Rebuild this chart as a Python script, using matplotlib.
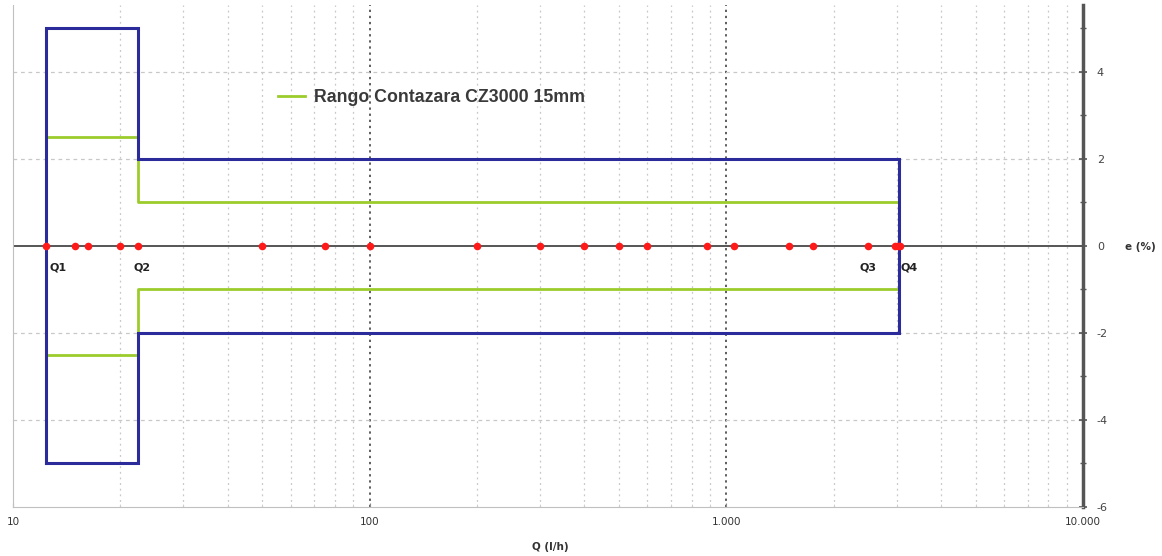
import matplotlib
matplotlib.use("Agg")
import matplotlib.pyplot as plt
from matplotlib.ticker import FixedLocator, NullFormatter, FixedFormatter

# ---- data ----
Q1, Q2, Q3, Q4 = 12.4, 22.4, 2500, 3040
flow_points = [12.4, 14.9, 16.2, 20, 22.4, 50, 75, 100, 200, 300, 400, 500, 600,
               880, 1050, 1500, 1750, 2500, 2980, 3020, 3060]
error_points = [0] * len(flow_points)
mpe_low_zone = 5.0      # blue, Q1..Q2
mpe_high_zone = 2.0     # blue, Q2..Q4
meter_low_zone = 2.5    # green, Q1..Q2
meter_high_zone = 1.0   # green, Q2..Q4
q_names = ["Q1", "Q2", "Q3", "Q4"]
q_values = [Q1, Q2, Q3, Q4]
x_tick_vals = [10, 100, 1000, 10000]
x_tick_labels = ["10", "100", "1.000", "10.000"]
y_tick_vals = [-6, -4, -2, 0, 2, 4]
y_tick_labels = ["-6", "-4", "-2", "0", "2", "4"]
legend_label = "Rango Contazara CZ3000 15mm"

W, H = 1162, 556
fig = plt.figure(figsize=(W / 100, H / 100), dpi=100)
ax = fig.add_axes([13 / W, 1 - 507 / H, (1083 - 13) / W, (507 - 5) / H])
ax.set_xscale("log")
ax.set_xlim(10, 10000)
ax.set_ylim(-6, 5.54)

# grid
minor_x = [m * 10 ** d for d in (1, 2, 3) for m in range(2, 10)]
for xv in minor_x:
    ax.axvline(xv, color="#c8c8c8", lw=0.9, ls=(0, (1.5, 3)), zorder=0)
for xv in [100, 1000]:
    ax.axvline(xv, color="#333333", lw=1.1, ls=(0, (1.5, 2.5)), zorder=0)
for yv in [-4, -2, 2, 4]:
    ax.axhline(yv, color="#c8c8c8", lw=0.9, ls=(0, (3, 3)), zorder=0)

# zero axis
ax.axhline(0, color="#555555", lw=1.4, zorder=1)

# blue MPE envelope (closed polygon)
bx = [Q1, Q1, Q2, Q2, Q4, Q4, Q2, Q2, Q1]
by = [-mpe_low_zone, mpe_low_zone, mpe_low_zone, mpe_high_zone, mpe_high_zone,
      -mpe_high_zone, -mpe_high_zone, -mpe_low_zone, -mpe_low_zone]
ax.plot(bx, by, color="#2b2b9c", lw=2.2, zorder=3, solid_joinstyle="miter")

# green meter range
gx = [Q1, Q2, Q2, Q4]
gy_top = [meter_low_zone, meter_low_zone, meter_high_zone, meter_high_zone]
gy_bot = [-v for v in gy_top]
ax.plot(gx, gy_top, color="#9ccc2c", lw=2.0, zorder=2, label=legend_label)
ax.plot(gx, gy_bot, color="#9ccc2c", lw=2.0, zorder=2)

# points
ax.scatter(flow_points, error_points, s=30, color="#ff1a1a", zorder=4, linewidths=0)

# Q labels
aligns = ["left", "center", "center", "left"]
offsets = [1.02, 1.03, 1.0, 1.01]
for name, qv, off, ha in zip(q_names, q_values, offsets, aligns):
    ax.text(qv * off, -0.5, name, fontsize=8, fontweight="bold", color="#222222",
            ha=ha, va="center", family="DejaVu Sans")

# axes styling
ax.spines["top"].set_visible(False)
ax.spines["left"].set_color("#c0c0c0")
ax.spines["bottom"].set_color("#c0c0c0")
ax.spines["right"].set_color("#555555")
ax.spines["right"].set_linewidth(2.5)

ax.yaxis.tick_right()
ax.yaxis.set_major_locator(FixedLocator(y_tick_vals))
ax.yaxis.set_major_formatter(FixedFormatter(y_tick_labels))
ax.yaxis.set_minor_locator(FixedLocator([-5, -3, -1, 1, 3, 5]))
ax.tick_params(axis="y", which="major", direction="inout", length=6, width=1.2,
               color="#555555", labelsize=8, labelcolor="#444444", pad=7)
ax.tick_params(axis="y", which="minor", direction="inout", length=5, width=1,
               color="#555555")

ax.xaxis.set_major_locator(FixedLocator(x_tick_vals))
ax.xaxis.set_major_formatter(FixedFormatter(x_tick_labels))
ax.xaxis.set_minor_locator(FixedLocator(minor_x))
ax.xaxis.set_minor_formatter(NullFormatter())
ax.tick_params(axis="x", which="major", direction="in", length=3, color="#888888",
               labelsize=7.5, labelcolor="#333333", pad=7)
ax.tick_params(axis="x", which="minor", direction="in", length=2, color="#cccccc")

fig.text(550 / W, 1 - 547 / H, "Q (l/h)", fontsize=7.5, fontweight="bold",
         color="#333333", ha="center", va="center")
fig.text(1140 / W, 1 - 247 / H, "e (%)", fontsize=7.5, fontweight="bold",
         color="#333333", ha="center", va="center")

leg = ax.legend(loc="upper left", bbox_to_anchor=(258 / 1070, 1 - 77 / 502),
                frameon=False, handlelength=1.5, handletextpad=0.5,
                borderaxespad=0,
                prop={"family": ["Liberation Sans", "DejaVu Sans"],
                      "size": 12.8, "weight": "bold"})
for t in leg.get_texts():
    t.set_color("#3a3a3a")

fig.savefig("out.png", dpi=100)
